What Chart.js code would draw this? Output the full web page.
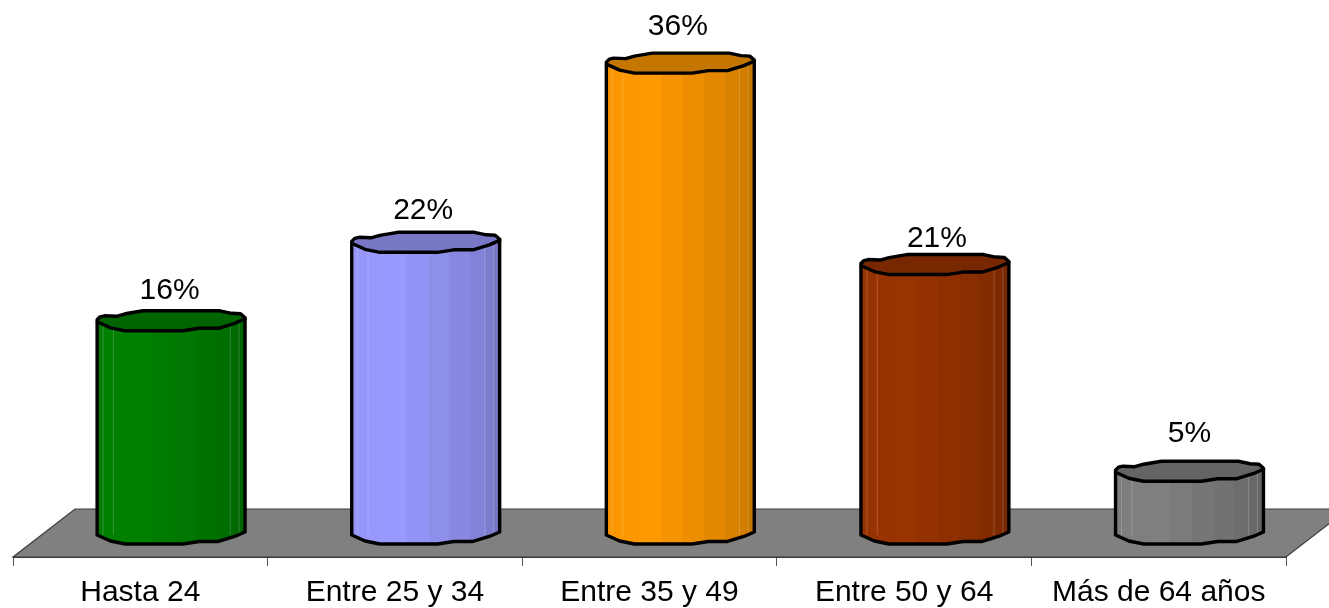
<!DOCTYPE html>
<html><head><meta charset="utf-8">
<style>html,body{margin:0;padding:0;background:#fff}canvas{display:block}</style>
<script src="https://cdn.jsdelivr.net/npm/chart.js@4"></script>
</head><body><canvas id="c" width="1329" height="608"></canvas>
<script>
const categories = ["Hasta 24", "Entre 25 y 34", "Entre 35 y 49", "Entre 50 y 64", "Más de 64 años"];
const shares = [16.3, 22.3, 36, 20.6, 4.8];
const shareLabels = ["16%", "22%", "36%", "21%", "5%"];
const lightColors = ["#008000", "#9999ff", "#ff9900", "#993300", "#808080"];
const darkColors = ["#006400", "#7777c4", "#c67700", "#772800", "#636363"];
const capColors = ["#006400", "#7878c6", "#c47600", "#772800", "#646464"];

const labelLift = [29, 31, 35, 25, 36];
const labelShift = [-1.5, -2.5, -2.5, 2, 0];
const DEPTH_X = 30.8, FLOOR_DX = 62, FLOOR_DY = 48, BAR_FRAC = 0.581;
// outline of the wobbly cylinder: u across the bar, v in px from the side's top/bottom level
const backEdge = [[0,0],[.02,-3],[.05,-4],[.13,-3.5],[.19,-6],[.31,-9],[.83,-9],[.91,-6.5],[.97,-6],[1,-2]];
const frontEdge = [[0,2],[.09,8],[.19,11],[.58,11],[.69,8.5],[.82,8.5],[.93,3.5],[1,-1]];
const bands = [0,.05,.11,.24,.37,.52,.66,.8,.9,.96,1];
const seams = [.04,.11,.9,.96];

function mix(a,b,t){
  const p=s=>[1,3,5].map(i=>parseInt(s.substr(i,2),16));
  const A=p(a),B=p(b);
  return "rgb("+A.map((v,i)=>Math.round(v+(B[i]-v)*t)).join(",")+")";
}
function sideFill(chart,i){
  const xs=chart.scales.x; if(!xs||!chart.ctx||!Number.isFinite(i)) return lightColors[i]||"#808080";
  const w=xs.width/categories.length*BAR_FRAC, c=xs.getPixelForValue(i);
  if(!Number.isFinite(w)||!Number.isFinite(c)) return lightColors[i];
  const g=chart.ctx.createLinearGradient(c-w/2,0,c+w/2,0);
  for(let k=0;k<bands.length-1;k++){
    const t=k<3?.12-.04*k:(k-3)/6;
    const col=mix(lightColors[i],darkColors[i],t);
    g.addColorStop(bands[k],col); g.addColorStop(bands[k+1],col);
  }
  return g;
}
function poly(ctx,pts,move){
  pts.forEach((p,i)=>{ if(i===0&&move) ctx.moveTo(p[0],p[1]); else ctx.lineTo(p[0],p[1]); });
}
const scene = {
  id:"scene",
  beforeDatasetsDraw(chart){
    const {ctx,chartArea:a}=chart;
    ctx.save();
    ctx.beginPath();
    ctx.moveTo(a.left,a.bottom);ctx.lineTo(a.left+FLOOR_DX,a.bottom-FLOOR_DY);
    ctx.lineTo(a.right+FLOOR_DX,a.bottom-FLOOR_DY);ctx.lineTo(a.right,a.bottom);ctx.closePath();
    ctx.fillStyle="#808080";ctx.fill();
    ctx.strokeStyle="#3c3c3c";ctx.lineWidth=1.2;ctx.stroke();
    ctx.restore();
    ctx.save();ctx.translate(DEPTH_X,0);
  },
  afterDatasetsDraw(chart){
    const ctx=chart.ctx, meta=chart.getDatasetMeta(0);
    meta.data.forEach((el,i)=>{
      const w=el.width,l=el.x-w/2,top=el.y,bot=el.base;
      const at=(e,y)=>e.map(p=>[l+p[0]*w,y+p[1]]);
      const front=at(frontEdge,top),base=at(frontEdge,bot),back=at(backEdge,top);
      // body bottom wobble
      ctx.beginPath();
      poly(ctx,base,true);ctx.lineTo(l+w,bot-12);ctx.lineTo(l,bot-12);ctx.closePath();
      ctx.fillStyle=sideFill(chart,i);ctx.fill();
      // seams
      ctx.strokeStyle="rgba(255,255,255,.2)";ctx.lineWidth=1;
      seams.forEach(u=>{ctx.beginPath();ctx.moveTo(l+u*w,top+4);ctx.lineTo(l+u*w,bot+2);ctx.stroke();});
      // cap
      ctx.beginPath();poly(ctx,back,true);poly(ctx,front.slice().reverse(),false);ctx.closePath();
      ctx.fillStyle=capColors[i];ctx.fill();
      ctx.strokeStyle="#000";ctx.lineWidth=3.4;ctx.lineJoin="round";ctx.stroke();
      // outline of sides and foot
      ctx.beginPath();ctx.moveTo(l,top+2);ctx.lineTo(l,bot+2);
      poly(ctx,base,false);ctx.lineTo(l+w,top-2);ctx.stroke();
    });
    ctx.restore();
    // value labels
    ctx.save();
    ctx.font='30px "Liberation Sans"';ctx.fillStyle="#000";ctx.textAlign="center";ctx.textBaseline="middle";
    meta.data.forEach((el,i)=>{
      ctx.fillText(shareLabels[i],el.x+DEPTH_X+labelShift[i],el.y-labelLift[i]);
    });
    ctx.restore();
  }
};
new Chart(document.getElementById("c"),{
  type:"bar",
  data:{labels:categories,datasets:[{
    data:shares,
    backgroundColor:c=>sideFill(c.chart,c.dataIndex),
    borderWidth:0,
    barPercentage:BAR_FRAC,categoryPercentage:1,
    clip:false
  }]},
  options:{
    responsive:false,animation:false,devicePixelRatio:1,
    layout:{padding:{left:13,right:43,top:0,bottom:0}},
    plugins:{legend:{display:false},tooltip:{enabled:false},title:{display:false}},
    scales:{
      x:{
        afterFit(s){s.height=51;},
        grid:{drawOnChartArea:false,drawTicks:true,tickLength:9,color:"#555",offset:true},
        border:{display:true,color:"#333"},
        ticks:{color:"#000",font:{family:"Liberation Sans",size:30},padding:9,maxRotation:0,autoSkip:false}
      },
      y:{display:false,min:-1.835,max:40.75}
    }
  },
  plugins:[scene]
});
</script></body></html>
